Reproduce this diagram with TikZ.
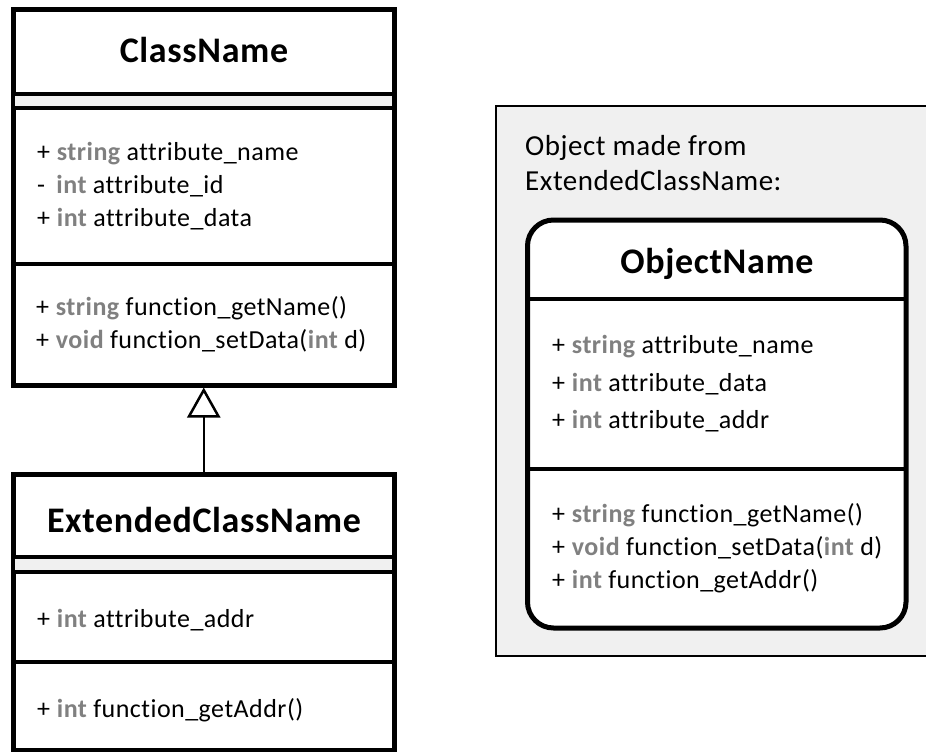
\documentclass[tikz,border=0pt]{standalone}
\usepackage{fontspec}
\setmainfont[Ligatures=NoCommon,LetterSpace=1.8]{Carlito}
\usetikzlibrary{arrows.meta}
\definecolor{typegray}{RGB}{128,128,128}
\definecolor{bandgray}{RGB}{240,240,240}
\newcommand{\ty}[1]{\textbf{\textcolor{typegray}{#1}}}

\begin{document}
\begin{tikzpicture}[x=1pt,y=-1pt,
  classbox/.style={draw,line width=5pt,inner sep=0pt,fill=white},
  divider/.style={line width=4pt},
  title/.style={anchor=base,inner sep=0pt,font=\fontsize{36}{40}\selectfont\bfseries},
  member/.style={anchor=base west,inner sep=0pt,font=\fontsize{26}{30}\selectfont}]
  \useasboundingbox (0,0) rectangle (926,752);
  % object panel
  \fill[bandgray] (496,106) rectangle (926,656);
  \draw[line width=2pt] (926,106) -- (496,106) -- (496,656) -- (926,656);
  \node[member,font=\fontsize{29}{33}\selectfont] (lbl1) at (525,155) {Object made from};
  \node[member,font=\fontsize{29}{33}\selectfont] (lbl2) at (525,190) {ExtendedClassName:};
  % ClassName
  \node[classbox,minimum width=380.5pt,minimum height=375pt] (cls) at (203.75,197.5) {};
  \fill[bandgray] (15,94) rectangle (392,108);
  \draw[divider] (13.5,94) -- (394,94);
  \draw[divider] (13.5,108) -- (394,108);
  \draw[divider] (13.5,264) -- (394,264);
  \node[title] (cls-t) at (204,63) {ClassName};
  \node[member] (cls-a1) at (37,160) {+ \ty{string} attribute\_name};
  \node[member] (cls-a2) at (37,193) {\rlap{-}\phantom{+} \ty{int} attribute\_id};
  \node[member] (cls-a3) at (37,226) {+ \ty{int} attribute\_data};
  \node[member] (cls-m1) at (36,315) {+ \ty{string} function\_getName()};
  \node[member] (cls-m2) at (36,348) {+ \ty{void} function\_setData(\ty{int} d)};
  % ExtendedClassName
  \node[classbox,minimum width=380.5pt,minimum height=276pt] (ext) at (203.75,612) {};
  \fill[bandgray] (15,557) rectangle (392,572);
  \draw[divider] (13.5,557) -- (394,557);
  \draw[divider] (13.5,572) -- (394,572);
  \draw[divider] (13.5,662) -- (394,662);
  \node[title] (ext-t) at (204,532) {ExtendedClassName};
  \node[member] (ext-a1) at (37,627) {+ \ty{int} attribute\_addr};
  \node[member] (ext-m1) at (37,717) {+ \ty{int} function\_getAddr()};
  \draw[line width=2.5pt,-{Triangle[open,length=30pt,width=33pt]}] (ext.north) -- (cls.south);
  % ObjectName
  \node[classbox,rounded corners=26pt,minimum width=378.5pt,minimum height=408pt] (obj) at (716.75,424) {};
  \draw[divider] (528,299) -- (905,299);
  \draw[divider] (528,469) -- (905,469);
  \node[title] (obj-t) at (717,273) {ObjectName};
  \node[member] (obj-a1) at (552,353) {+ \ty{string} attribute\_name};
  \node[member] (obj-a2) at (552,391) {+ \ty{int} attribute\_data};
  \node[member] (obj-a3) at (552,428) {+ \ty{int} attribute\_addr};
  \node[member] (obj-m1) at (552,522) {+ \ty{string} function\_getName()};
  \node[member] (obj-m2) at (552,555) {+ \ty{void} function\_setData(\ty{int} d)};
  \node[member] (obj-m3) at (552,588) {+ \ty{int} function\_getAddr()};
\end{tikzpicture}
\end{document}
